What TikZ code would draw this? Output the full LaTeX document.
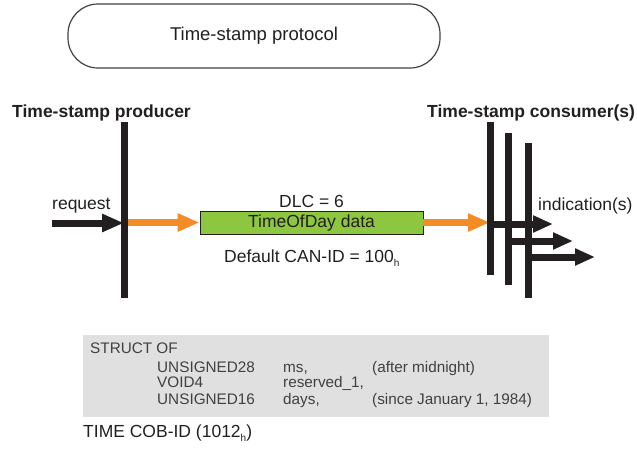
\documentclass[tikz,border=0pt]{standalone}
\usepackage{fontspec}
\setmainfont{Liberation Sans}
\usetikzlibrary{arrows.meta,positioning,calc}
\definecolor{tsorange}{RGB}{243,140,38}
\definecolor{tsgreen}{RGB}{141,198,63}
\definecolor{tsgray}{RGB}{224,224,224}
\definecolor{tsink}{RGB}{35,31,32}
\newcommand{\hsub}{\raisebox{-0.45ex}{\fontsize{10}{10}\selectfont h}}
\tikzset{
  lbl/.style={anchor=base west, inner sep=0pt, text=tsink, font=\fontsize{17.5}{20}\selectfont},
  hdr/.style={lbl, font=\fontsize{17.5}{20}\selectfont\bfseries},
  code/.style={anchor=base west, inner sep=0pt, text=black!75, font=\fontsize{15.3}{18}\selectfont},
  lifeline/.style={line width=7pt, tsink},
  bigarrow/.style={line width=7pt, -{Triangle[length=22pt,width=17pt]}},
}

\begin{document}
\begin{tikzpicture}[x=1pt,y=-1pt]
    \useasboundingbox (0,0) rectangle (637,448);
    % protocol title
    \node[draw=tsink!85, line width=1.2pt, rounded corners=30pt, minimum width=372pt, minimum height=64pt,
          font=\fontsize{18.5}{22}\selectfont, text=tsink] (title) at (254,36) {Time-stamp protocol};
    % producer side
    \node[hdr] (prod) at (12,117) {Time-stamp producer};
    \coordinate (ptop) at (124,122);
    \coordinate (pbot) at (124,298);
    \coordinate (req) at (52,223);
    \node[lbl] (reqlbl) at (52,209) {request};
    \draw[bigarrow, tsink] (req) -- (req -| ptop);
    % the message
    \node[draw=tsink, line width=0.8pt, fill=tsgreen, minimum width=223pt, minimum height=23pt, inner sep=0pt,
          font=\fontsize{17.5}{20}\selectfont, text=tsink] (data) at (311.5,222.5) {TimeOfDay data};
    \node[lbl, anchor=base] (dlc) at (311.5,207) {DLC = 6};
    \node[lbl] (canid) at (224,262) {Default CAN-ID = 100\hsub};
    % consumer side
    \node[hdr] (cons) at (427,117) {Time-stamp consumer(s)};
    \node[lbl] (indlbl) at (538,210) {indication(s)};
    \foreach \i/\x/\yt/\yb in {1/490/122/275, 2/508/133/285, 3/528/143/298}{
        \coordinate (c\i top) at (\x,\yt);
        \coordinate (c\i bot) at (\x,\yb);
    }
    \draw[bigarrow, tsorange] ($(ptop |- data.west)+(4,0)$) -- (data.west);
    \draw[bigarrow, tsorange] (data.east) -- (data.east -| c1top);
    \draw[lifeline] (ptop) -- (pbot);
    \foreach \i in {1,2,3}
        \draw[lifeline] (c\i top) -- (c\i bot);
    \foreach \i/\xe/\ya in {1/553/224, 2/573/241, 3/595/257}{
        \coordinate (ind\i) at (\xe,\ya);
        \draw[bigarrow, tsink, -{Triangle[length=20pt,width=16pt]}] (c\i top |- ind\i) -- (ind\i);
    }
    % data type of the time stamp
    \node[fill=tsgray, minimum width=466pt, minimum height=82pt, inner sep=0pt] (struct) at (316,376) {};
    \node[code] (st) at (90,353) {STRUCT OF};
    \foreach \r/\y/\typ/\fld/\cmt in {a/372/UNSIGNED28/{ms,}/{(after midnight)},
                                     b/387/VOID4/{reserved\_1,}/{},
                                     c/404/UNSIGNED16/{days,}/{(since January 1, 1984)}}{
        \node[code] (typ\r) at (157,\y) {\typ};
        \node[code] (fld\r) at (283,\y) {\fld};
        \node[code] (cmt\r) at (372,\y) {\cmt};
    }
    \node[lbl] (cobid) at (83,437) {TIME COB-ID (1012\hsub)};
\end{tikzpicture}
\end{document}
